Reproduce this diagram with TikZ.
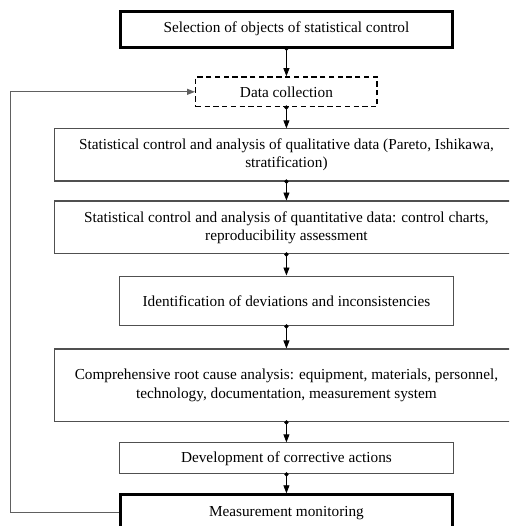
\documentclass[tikz,border=0pt]{standalone}
\usepackage{fontspec}
\setmainfont{Liberation Serif}
\usepackage{xcolor}
\usepackage{tikz}
\usetikzlibrary{arrows.meta,positioning,calc}
\definecolor{framegray}{HTML}{505050}
\definecolor{wiregray}{HTML}{606060}

\begin{document}
\begin{tikzpicture}[>=Latex, every node/.style={font=\fontsize{11.5}{13.8}\selectfont, align=center},
  stage/.style={draw=framegray, line width=0.8pt, minimum width=8.86cm},
  widestage/.style={stage, minimum width=12.3cm},
  keystage/.style={draw, line width=2.3pt, minimum width=8.8cm, minimum height=0.95cm},
  collectbox/.style={draw, line width=1.1pt, dash pattern=on 4pt off 2.6pt, minimum width=4.8cm, minimum height=0.79cm},
  flow/.style={{Circle[length=3.2pt]}-{Triangle[length=6pt,width=4.5pt]}, shorten <=-1.6pt, line width=0.6pt}]
  \useasboundingbox (0,0) rectangle (13.47,-13.92);
  \clip (0,0) rectangle (13.47,-13.92);

  \node[keystage] (select) at (7.58,-0.77) {Selection of objects of statistical control};
  \node[collectbox] (collect) at (7.58,-2.43) {Data collection};
  \node[widestage, minimum height=1.38cm] (quali) at (7.58,-4.10) {Statistical control and analysis of qualitative data (Pareto, Ishikawa,\\ stratification)};
  \node[widestage, minimum height=1.40cm] (quanti) at (7.58,-6.02) {Statistical control and analysis of quantitative data: control charts,\\ reproducibility assessment};
  \node[stage, minimum height=1.32cm] (deviate) at (7.58,-7.965) {Identification of deviations and inconsistencies};
  \node[widestage, minimum height=1.93cm] (rootcause) at (7.58,-10.20) {Comprehensive root cause analysis: equipment, materials, personnel,\\ technology, documentation, measurement system};
  \node[stage, minimum height=0.82cm] (corrective) at (7.58,-12.13) {Development of corrective actions};
  \node[keystage] (monitor) at (7.58,-13.57) {Measurement monitoring};
  \coordinate (loopleft) at (0.28,-13.5);

  \draw[flow] (select) -- (collect);
  \draw[flow] (collect) -- (quali);
  \draw[flow] (quali) -- (quanti);
  \draw[flow] (quanti) -- (deviate);
  \draw[flow] (deviate) -- (rootcause);
  \draw[flow] (rootcause) -- (corrective);
  \draw[flow] (corrective) -- (monitor);
  % feedback from monitoring back to data collection
  \draw[-{Triangle[length=6pt,width=4.5pt]}, wiregray, line width=0.8pt] (monitor.west) -- (monitor.west -| loopleft) |- (collect.west);
\end{tikzpicture}
\end{document}
